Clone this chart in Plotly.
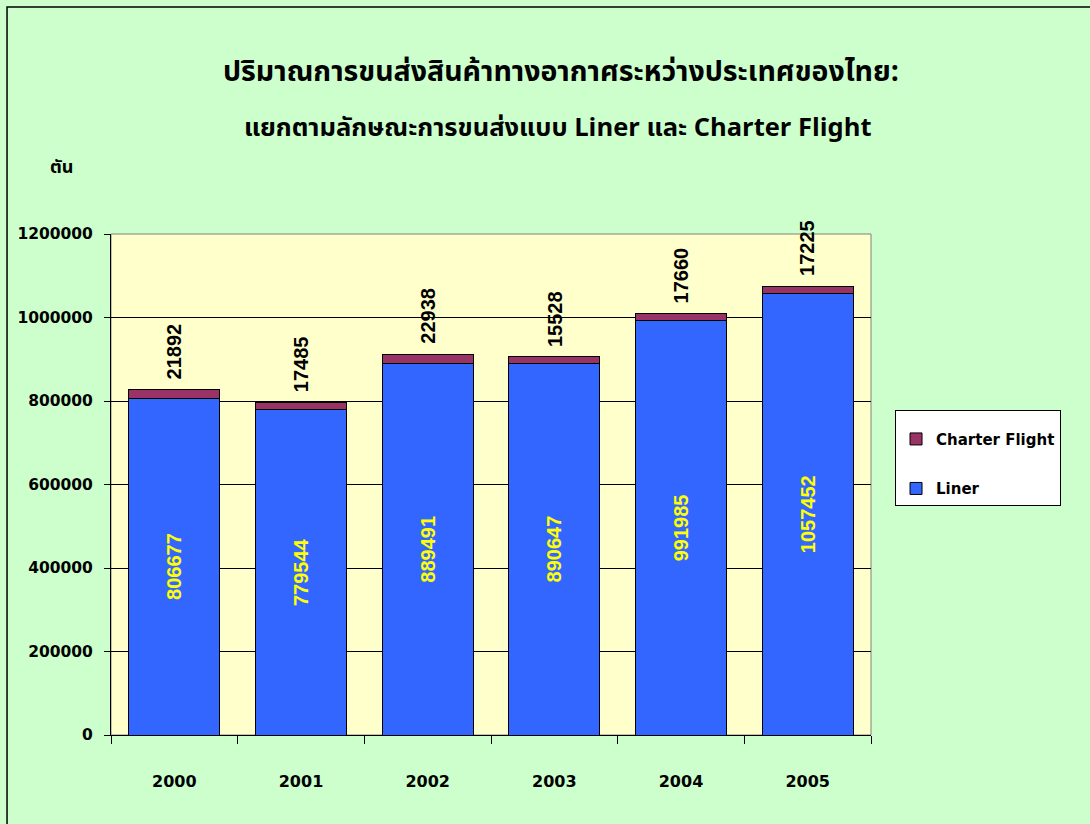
import plotly.graph_objects as go

years = ["2000", "2001", "2002", "2003", "2004", "2005"]
liner = [806677, 779544, 889491, 890647, 991985, 1057452]
charter = [21892, 17485, 22938, 15528, 17660, 17225]
y_ticks = [0, 200000, 400000, 600000, 800000, 1000000, 1200000]
title1 = "ปริมาณการขนส่งสินค้าทางอากาศระหว่างประเทศของไทย:"
title2 = "แยกตามลักษณะการขนส่งแบบ Liner และ Charter Flight"
unit = "ตัน"

thai_font = "Noto Sans Thai, Noto Sans, DejaVu Sans, sans-serif"
lat_font = "Liberation Sans, Arial, sans-serif"
wide_font = "DejaVu Sans, Verdana, sans-serif"

fig = go.Figure()
fig.add_trace(go.Bar(
    x=years, y=liner, name="Liner",
    marker=dict(color="#3366ff", line=dict(color="black", width=1)),
    text=[str(v) for v in liner], textposition="inside", insidetextanchor="middle",
    textangle=-90, textfont=dict(color="#ffff00", size=20, family=lat_font, weight="bold"),
    constraintext="none", legendrank=2, legendgroup="liner",
))
fig.add_trace(go.Bar(
    x=years, y=charter, name="Charter Flight",
    marker=dict(color="#993366", line=dict(color="black", width=1)),
    legendrank=1, legendgroup="charter",
))

for i, (l, c) in enumerate(zip(liner, charter)):
    fig.add_annotation(
        x=i, y=l + c, xref="x", yref="y", text="<b>" + str(c) + "</b>", textangle=-90,
        showarrow=False, yanchor="bottom", xanchor="center", yshift=8,
        font=dict(color="black", size=20, family=lat_font),
    )

fig.add_annotation(x=0.592, y=1.323, xref="paper", yref="paper", text="<b>" + title1 + "</b>",
                   showarrow=False, xanchor="center", yanchor="middle",
                   font=dict(size=28.5, family=thai_font, color="black"))
fig.add_annotation(x=0.588, y=1.2116, xref="paper", yref="paper", text="<b>" + title2 + "</b>",
                   showarrow=False, xanchor="center", yanchor="middle",
                   font=dict(size=25.5, family=thai_font, color="black"))
fig.add_annotation(x=-0.065, y=1.132, xref="paper", yref="paper", text="<b>" + unit + "</b>",
                   showarrow=False, xanchor="center", yanchor="middle",
                   font=dict(size=18, family=thai_font, color="black"))

# plot-area border (grey) and outer chart border
fig.add_shape(type="rect", xref="paper", yref="paper", x0=0, x1=1, y0=0, y1=1,
              line=dict(color="#808080", width=1), layer="below")
fig.add_shape(type="rect", xref="paper", yref="paper", x0=-0.1368, x1=1.6, y0=-0.6, y1=1.453,
              line=dict(color="black", width=1.5))

fig.update_layout(
    width=1090, height=824,
    barmode="stack", bargap=0.28,
    paper_bgcolor="#ccffcc", plot_bgcolor="#ffffcc",
    margin=dict(l=111, r=219, t=234, b=89, autoexpand=False),
    showlegend=True,
    legend=dict(
        x=1.0316, y=0.6487, xanchor="left", yanchor="top",
        bgcolor="white", bordercolor="black", borderwidth=1,
        traceorder="grouped", tracegroupgap=27,
        title=dict(text=" ", font=dict(size=9)),
        font=dict(size=15, family=wide_font, color="black", weight="bold"),
        entrywidth=161,
    ),
    font=dict(family=lat_font, color="black"),
)
fig.update_xaxes(
    type="category", automargin=False,
    showline=True, linecolor="black", linewidth=1,
    ticks="outside", tickson="boundaries", ticklen=8, tickcolor="black",
    ticklabelstandoff=32, tickangle=0,
    tickfont=dict(size=16, family=wide_font, color="black", weight="bold"),
    showgrid=False,
)
fig.update_yaxes(
    range=[0, 1200000], tickvals=y_ticks, ticktext=[str(v) for v in y_ticks],
    automargin=False,
    showline=True, linecolor="black", linewidth=1,
    ticks="outside", ticklen=6, tickcolor="black", ticklabelstandoff=8,
    showgrid=True, gridcolor="black", gridwidth=1,
    tickfont=dict(size=15.5, family=wide_font, color="black", weight="bold"),
    zeroline=False,
)

fig.write_html("out.html", config={"displayModeBar": False},
               post_script="document.body.style.margin='0';")
